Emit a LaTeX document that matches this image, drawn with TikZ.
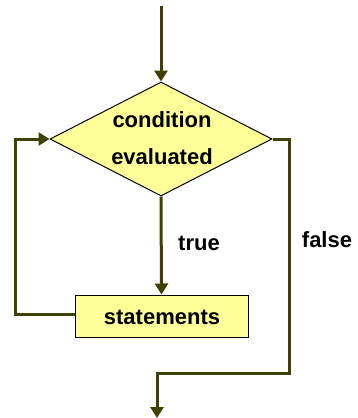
\documentclass[tikz,border=0pt]{standalone}
\usepackage{fontspec}
\setmainfont{Liberation Sans}
\usetikzlibrary{shapes.geometric,arrows.meta}
\definecolor{flowline}{RGB}{64,64,0}
\definecolor{boxfill}{RGB}{255,255,153}
\tikzset{
  flow/.style={draw=flowline, line width=3pt},
  tip/.style={-{Triangle[width=13pt,length=11pt]}},
  txt/.style={font=\fontsize{22}{26}\selectfont\bfseries, inner sep=0pt},
  shapebox/.style={draw=black, line width=1pt, fill=boxfill}
}
\begin{document}
\begin{tikzpicture}[x=1pt,y=-1pt]
\useasboundingbox (0,0) rectangle (358,418);
\node[shapebox, diamond, minimum width=222pt, minimum height=114pt, inner sep=0pt] (cond) at (161,139) {};
\node[txt, anchor=base] (l1) at (162,127) {condition};
\node[txt, anchor=base] (l2) at (162,164) {evaluated};
\node[shapebox, minimum width=173pt, minimum height=42pt, inner sep=0pt] (stmt) at (161.5,316) {};
\node[txt] (st) at (162,317) {statements};
\node[txt] (true) at (199,243) {true};
\node[txt] (false) at (327,240) {false};
\coordinate (start) at (161,6);
\coordinate (r1) at (289,139);
\coordinate (r2) at (289,373);
\coordinate (r3) at (157,373);
\coordinate (endpt) at (157,418);
\coordinate (lb) at (15,314);
\coordinate (lt) at (15,139);
\draw[flow, tip] (start) -- (cond.north);
\draw[flow, tip] (cond.south) -- (stmt.north);
\draw[flow, tip, line join=miter] (stmt.west |- lb) -- (lb) -- (lt) -- (cond.west);
\draw[flow, tip, line join=miter] (cond.east) -- (r1) -- (r2) -- (r3) -- (endpt);
\end{tikzpicture}
\end{document}
